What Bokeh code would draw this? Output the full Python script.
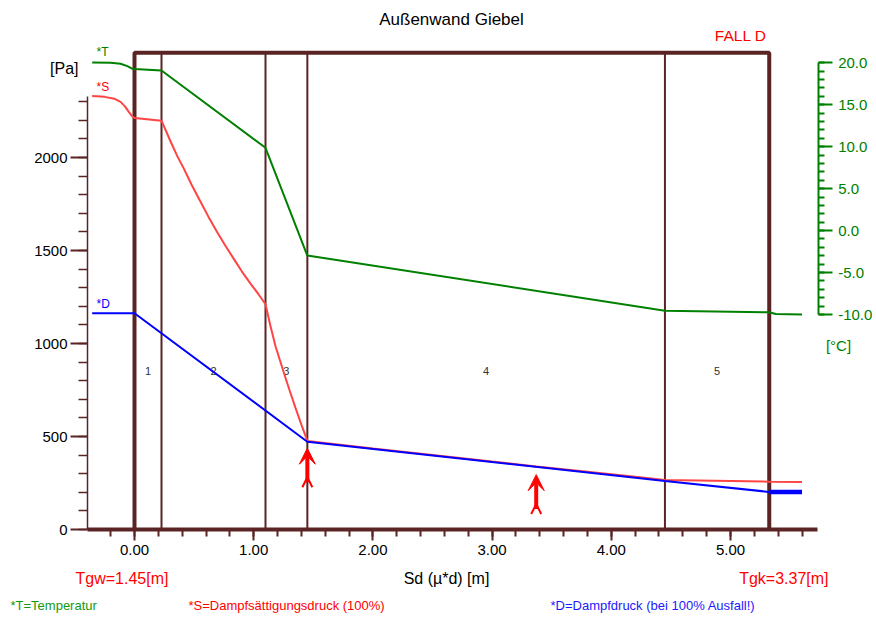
from bokeh.plotting import figure
from bokeh.models import (Range1d, LinearAxis, SingleIntervalTicker, NumeralTickFormatter,
                          Label, Arrow, VeeHead, OpenHead, ColumnDataSource)
from bokeh.core.properties import value
from bokeh.embed import file_html
from bokeh.resources import INLINE

# ---------------- data ----------------
layer_bounds = [0.0, 0.2265, 1.099, 1.45, 4.45, 5.325]
layer_names = ["1", "2", "3", "4", "5"]

T_sd = [-0.355, -0.2, -0.117, -0.06, -0.02, 0.0, 0.2265, 1.099, 1.45, 4.45, 5.325, 5.38, 5.6]
T_c = [20.05, 20.0, 19.88, 19.6, 19.3, 19.25, 19.08, 9.87, -2.97, -9.56, -9.73, -9.95, -10.0]

S_sd = [-0.355, -0.25, -0.17, -0.117, -0.08, -0.048, -0.02, 0.0,
        0.2265, 0.30, 0.36, 0.414, 0.48, 0.554, 0.62, 0.694, 0.76, 0.833, 0.90, 0.973, 1.04, 1.099,
        1.14, 1.183, 1.247, 1.30, 1.35, 1.40, 1.45,
        2.0, 2.5, 3.0, 3.37, 3.8, 4.2, 4.45, 5.325, 5.6]
S_pa = [2330, 2326, 2316, 2299, 2275, 2245, 2222, 2213,
        2198, 2090, 2006, 1940, 1852, 1762, 1682, 1598, 1528, 1455, 1388, 1322, 1265, 1211,
        1095, 985, 855, 750, 655, 564, 476,
        436, 401, 365, 339, 310, 283, 266, 257, 256]

D_sd = [-0.355, 0.0, 1.45, 4.45, 5.325]
D_pa = [1163, 1163, 472, 261, 202]
D_out_sd = [5.325, 5.6]
D_out_pa = [202, 202]

arrow_sd = [1.45, 3.37]
arrow_top = [437, 295]
arrow_bottom = [254, 110]

box_top_pa = 2563
layer_label_pa = 851

# ---------------- styles ----------------
BROWN = "#5a2424"
GREEN = "#008000"
RED_LINE = "#ff4444"
RED = "#ff0000"
BLUE = "#0000ff"
FONT = "Liberation Sans"

W, H = 876, 617
PX_X0, PX_PER_SD = 134.0, 119.2      # screen x of Sd=0, pixels per metre
PY_Y0, PX_PER_PA = 529.0, 0.186      # screen y of 0 Pa, pixels per Pa
PY_T0, PX_PER_C = 230.1, 8.39        # screen y of 0 °C, pixels per °C


def X(px):
    return (px - PX_X0) / PX_PER_SD


def Y(py):
    return (PY_Y0 - py) / PX_PER_PA


def TC(py):
    return (PY_T0 - py) / PX_PER_C


p = figure(width=W, height=H, output_backend="svg", toolbar_location=None,
           x_range=Range1d(X(0), X(W)), y_range=Range1d(Y(H), Y(0)),
           x_axis_type=None, y_axis_type=None, min_border=0)
p.min_border_left = 0
p.min_border_right = 0
p.min_border_top = 0
p.min_border_bottom = 0
p.outline_line_color = None
p.background_fill_color = "white"
p.extra_y_ranges = {"t": Range1d(TC(H), TC(0))}

# left axis (Pa)
ya = LinearAxis(ticker=SingleIntervalTicker(interval=500, num_minor_ticks=5), bounds=(0, 2330),
                fixed_location=X(87))
ya.axis_line_color = BROWN
ya.axis_line_width = 1.5
ya.major_tick_line_color = BROWN
ya.minor_tick_line_color = BROWN
ya.major_tick_line_width = 2
ya.minor_tick_line_width = 1.5
ya.major_tick_out = 17
ya.major_tick_in = 0
ya.minor_tick_out = 9
ya.minor_tick_in = 0
ya.major_label_standoff = 3
ya.major_label_text_font = FONT
ya.major_label_text_font_size = "15px"
ya.major_label_text_color = "black"
p.add_layout(ya, "left")

# bottom axis (Sd)
xa = LinearAxis(ticker=SingleIntervalTicker(interval=1, num_minor_ticks=5),
                formatter=NumeralTickFormatter(format="0.00"), bounds=(X(87), X(817)),
                fixed_location=0)
xa.axis_line_color = BROWN
xa.axis_line_width = 4
xa.major_tick_line_color = BROWN
xa.minor_tick_line_color = BROWN
xa.major_tick_line_width = 2
xa.minor_tick_line_width = 2
xa.major_tick_out = 11
xa.major_tick_in = 0
xa.minor_tick_out = 7
xa.minor_tick_in = 0
xa.major_label_standoff = 4
xa.major_label_text_font = FONT
xa.major_label_text_font_size = "15px"
xa.major_label_text_color = "black"
p.add_layout(xa, "below")

# right axis (°C)
ra = LinearAxis(y_range_name="t", ticker=SingleIntervalTicker(interval=5, num_minor_ticks=5),
                formatter=NumeralTickFormatter(format="0.0"), bounds=(-10, 20),
                fixed_location=X(817.7))
ra.axis_line_color = GREEN
ra.axis_line_width = 2
ra.major_tick_line_color = GREEN
ra.minor_tick_line_color = GREEN
ra.major_tick_line_width = 2
ra.minor_tick_line_width = 2
ra.major_tick_out = 14
ra.major_tick_in = 0
ra.minor_tick_out = 6
ra.minor_tick_in = 0
ra.major_label_standoff = 6
ra.major_label_text_font = FONT
ra.major_label_text_font_size = "15px"
ra.major_label_text_color = GREEN
p.add_layout(ra, "right")

# layer box
inner = layer_bounds[1:-1]
p.segment(x0=inner, y0=[0] * len(inner), x1=inner, y1=[box_top_pa] * len(inner),
          line_color=BROWN, line_width=2)
p.line(x=[layer_bounds[0], layer_bounds[0], layer_bounds[-1], layer_bounds[-1]],
       y=[0, box_top_pa, box_top_pa, 0], line_color=BROWN, line_width=4)

mids = [(layer_bounds[i] + layer_bounds[i + 1]) / 2 for i in range(len(layer_names))]
p.text(x=mids, y=[layer_label_pa] * len(mids), text=layer_names, text_font=value(FONT),
       text_font_size="11px", text_color="#333333", text_align="center", text_baseline="middle")

# curves
p.line(T_sd, T_c, y_range_name="t", line_color=GREEN, line_width=2)
p.line(S_sd, S_pa, line_color=RED_LINE, line_width=2)
p.line(D_sd, D_pa, line_color=BLUE, line_width=2)
p.line(D_out_sd, D_out_pa, line_color=BLUE, line_width=4.5)

# arrows
asrc = ColumnDataSource(dict(x=arrow_sd, y0=arrow_bottom, y1=arrow_top,
                             yt=[b + 27 for b in arrow_bottom]))
p.add_layout(Arrow(x_start="x", y_start="y0", x_end="x", y_end="y1", source=asrc,
                   line_color=RED, line_width=4,
                   end=VeeHead(size=16, fill_color=RED, line_color=RED, line_width=1)))
p.add_layout(Arrow(x_start="x", y_start="y0", x_end="x", y_end="yt", source=asrc,
                   line_color=RED, line_width=1, line_alpha=0.0,
                   end=OpenHead(size=10, line_color=RED, line_width=2)))


def lab(px, py, text, size, color, align="left"):
    p.add_layout(Label(x=X(px), y=Y(py), text=text, text_font=FONT, text_font_size=size,
                       text_color=color, text_align=align, text_baseline="middle"))


lab(451, 18.5, "Außenwand Giebel", "17px", "black", "center")
lab(766, 35, "FALL D", "15.5px", RED, "right")
lab(78, 68, "[Pa]", "16px", "black", "right")
lab(96, 51.5, "*T", "12px", GREEN)
lab(96, 86, "*S", "12px", RED)
lab(96, 303, "*D", "12px", BLUE)
lab(838, 345, "[°C]", "15px", GREEN, "center")
lab(75, 578, "Tgw=1.45[m]", "16px", RED)
lab(828, 578, "Tgk=3.37[m]", "16px", RED, "right")
lab(446, 578, "Sd (µ*d) [m]", "16px", "black", "center")
lab(10, 605, "*T=Temperatur", "13px", "#119911")
lab(188, 605, "*S=Dampfsättigungsdruck (100%)", "13px", RED)
lab(550, 605, "*D=Dampfdruck (bei 100% Ausfall!)", "13px", "#1a1aff")

open("out.html", "w").write(file_html(p, INLINE))
